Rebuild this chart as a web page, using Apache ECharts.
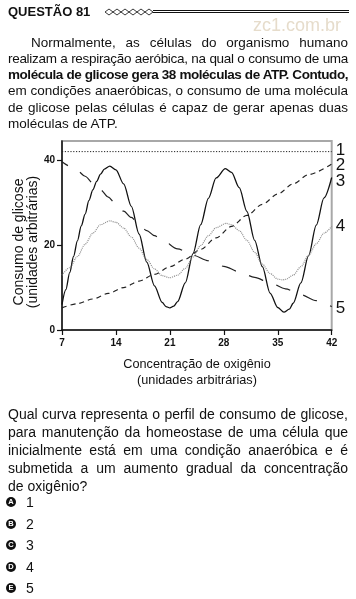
<!DOCTYPE html>
<html><head><meta charset="utf-8">
<script src="https://cdn.jsdelivr.net/npm/echarts@6/dist/echarts.min.js"></script>
<style>
html,body{margin:0;padding:0;background:#fff;}
body{width:356px;height:599px;position:relative;overflow:hidden;font-family:"Liberation Sans",Arial,sans-serif;color:#111;}
#chart{position:absolute;left:0;top:0;width:356px;height:599px;}
.abs{position:absolute;}
.ln{display:block;white-space:normal;}
.jl{text-align:justify;text-align-last:justify;}
#title{left:8px;top:4px;font-size:13px;font-weight:bold;line-height:16px;}
#dbl{left:153px;top:9.5px;width:196px;height:1px;border-top:1.5px solid #111;border-bottom:1.5px solid #111;}
#wm{left:253px;top:14px;font-size:18px;line-height:22px;color:#e6dccb;}
#para{left:8px;top:34.7px;width:340px;font-size:13.5px;line-height:16.2px;}
#quest{left:8px;top:405px;width:340px;font-size:14px;line-height:18px;}
#opts{left:6px;top:492px;font-size:14px;line-height:21.5px;}
.circ{display:inline-block;width:10px;height:10px;border-radius:50%;background:#111;color:#fff;font-size:7.5px;font-weight:bold;line-height:10px;text-align:center;vertical-align:middle;margin-right:10px;position:relative;top:-1px;}
</style></head>
<body>
<div id="chart"></div>
<div id="title" class="abs">QUESTÃO 81</div>
<svg class="abs" style="left:104px;top:7px" width="50" height="10">
<g fill="none" stroke="#222" stroke-width="0.9">
<polygon points="1,5 5,2 9,5 5,8"/><polygon points="9,5 13,2 17,5 13,8"/><polygon points="17,5 21,2 25,5 21,8"/>
<polygon points="25,5 29,2 33,5 29,8"/><polygon points="33,5 37,2 41,5 37,8"/><polygon points="41,5 45,2 49,5 45,8"/>
</g></svg>
<div id="dbl" class="abs"></div>
<div id="wm" class="abs">zc1.com.br</div>
<div id="para" class="abs">
<div class="ln jl" style="padding-left:23px">Normalmente, as células do organismo humano</div>
<div class="ln jl">realizam a respiração aeróbica, na qual o consumo de uma</div>
<div class="ln jl" style="font-weight:bold">molécula de glicose gera 38 moléculas de ATP. Contudo,</div>
<div class="ln jl">em condições anaeróbicas, o consumo de uma molécula</div>
<div class="ln jl">de glicose pelas células é capaz de gerar apenas duas</div>
<div class="ln">moléculas de ATP.</div>
</div>
<div id="quest" class="abs">
<div class="ln jl">Qual curva representa o perfil de consumo de glicose,</div>
<div class="ln jl">para manutenção da homeostase de uma célula que</div>
<div class="ln jl">inicialmente está em uma condição anaeróbica e é</div>
<div class="ln jl">submetida a um aumento gradual da concentração</div>
<div class="ln">de oxigênio?</div>
</div>
<div id="opts" class="abs">
<div><span class="circ">A</span>1</div>
<div><span class="circ">B</span>2</div>
<div><span class="circ">C</span>3</div>
<div><span class="circ">D</span>4</div>
<div><span class="circ">E</span>5</div>
</div>
<script>
// fit justified lines: shrink letter-spacing if a line wraps
document.querySelectorAll('.ln').forEach(function(el){
  var lh = parseFloat(getComputedStyle(el).lineHeight);
  var ls = 0;
  while (el.offsetHeight > lh * 1.5 && ls > -1.5) { ls -= 0.05; el.style.letterSpacing = ls + 'px'; }
});

// ---- data ----
var xTicks = [7, 14, 21, 28, 35, 42];
var yTicks = [0, 20, 40];
var curveNames = ['1', '2', '3', '4', '5'];

var curve1X = [7, 42];
var curve1Y = [42, 42];

var curve2X = [7, 9, 11, 13, 15, 17, 19, 21, 23, 25, 27, 29, 31, 33, 35, 37, 39, 42];
var curve2Y = [5.2, 6.2, 7.3, 8.6, 10.0, 11.5, 13.1, 14.9, 16.7, 19.0, 21.7, 24.4, 27.0, 29.6, 32.0, 34.4, 36.6, 39.1];

var curve3X = [7, 7.5, 8, 8.5, 9, 9.5, 10, 10.5, 11, 11.5, 12, 12.5, 13.2, 14, 15, 16, 17, 18, 19, 20, 20.5, 21, 21.5, 22, 23, 24, 25, 26, 27, 28.2, 29, 30, 31, 32, 33, 34, 35, 35.8, 36.5, 37, 38, 39, 40, 41, 42];
var curve3Y = [6, 9.5, 13.5, 17.3, 21, 24.5, 27.3, 30.5, 33, 35, 36.7, 37.9, 38.6, 37.7, 34.4, 29.1, 22.6, 16.0, 10.4, 6.5, 5.5, 5.2, 5.6, 6.7, 11.1, 18.0, 24.8, 31.0, 35.8, 38.0, 37.1, 33.5, 27.9, 21.1, 14.9, 8.7, 5.3, 4.2, 4.9, 6.3, 11.1, 17.5, 24.7, 31.1, 35.9];

var curve4X = [7, 8, 9, 10, 11, 12, 13.2, 14, 15, 16, 17, 18, 19, 20, 21, 22, 23, 24, 25, 26, 27, 28.3, 29, 30, 31, 32, 33, 34, 35, 35.6, 36, 37, 38, 39, 40, 41, 42];
var curve4Y = [12.9, 14.7, 17.3, 20.2, 22.8, 24.8, 25.7, 25.35, 24.0, 21.9, 19.3, 16.6, 14.4, 12.8, 12.3, 12.9, 14.5, 17.2, 19.9, 22.2, 24.1, 25.1, 24.8, 23.4, 21.1, 18.3, 15.5, 13.3, 12.0, 11.8, 11.9, 12.9, 14.9, 17.6, 20.3, 22.8, 24.4];

var curve5X = [7, 8, 9, 10, 11, 12, 13, 14, 15, 16, 17, 18, 19, 20, 22, 24, 26, 28, 30, 32, 34, 36, 38, 40, 42];
var curve5Y = [39.6, 38.6, 37.5, 36.2, 34.6, 33.0, 31.3, 29.6, 28.0, 26.5, 24.8, 23.4, 22.2, 21.2, 19.1, 17.6, 16.3, 15.0, 13.7, 12.4, 11.1, 9.7, 8.3, 6.9, 5.5];

var FONT = '"Liberation Sans", Arial, sans-serif';
function pairs(xs, ys){ return xs.map(function(x, i){ return [x, ys[i]]; }); }
function mk(name, xs, ys, lineStyle, labelOffset, smooth){
  return {
    type: 'line', name: name, data: pairs(xs, ys), symbol: 'none', showSymbol: false,
    smooth: smooth, smoothMonotone: 'x', lineStyle: lineStyle, silent: true,
    endLabel: { show: true, formatter: '{a}', fontSize: 17, fontFamily: FONT, color: '#111', distance: 4, offset: labelOffset }
  };
}

var chart = echarts.init(document.getElementById('chart'), null, { renderer: 'canvas' });
chart.setOption({
  animation: false,
  backgroundColor: 'transparent',
  grid: { left: 62, right: 24.3, top: 141, bottom: 269, show: true, borderColor: '#a8a8a8', borderWidth: 2, backgroundColor: 'transparent' },
  xAxis: {
    type: 'value', min: 7, max: 42, interval: 7,
    axisLine: { show: true, onZero: false, lineStyle: { color: '#111', width: 1.5 } },
    axisTick: { show: true, length: 5, lineStyle: { color: '#111', width: 1.2 }, customValues: xTicks },
    axisLabel: { fontSize: 10, fontWeight: 'bold', color: '#111', fontFamily: FONT, margin: 8, customValues: xTicks },
    splitLine: { show: false }
  },
  yAxis: {
    type: 'value', min: 0, max: 44.5, interval: 20,
    axisLine: { show: true, lineStyle: { color: '#111', width: 1.5 } },
    axisTick: { show: true, length: 5, lineStyle: { color: '#111', width: 1.2 }, customValues: yTicks },
    axisLabel: { fontSize: 10, fontWeight: 'bold', color: '#111', fontFamily: FONT, margin: 7, customValues: yTicks },
    splitLine: { show: false }
  },
  graphic: [
    { type: 'text', x: 19, y: 242, rotation: Math.PI / 2, style: { text: 'Consumo de glicose', fontSize: 14, fontFamily: FONT, fill: '#111', align: 'center', verticalAlign: 'middle' } },
    { type: 'text', x: 33.5, y: 242, rotation: Math.PI / 2, style: { text: '(unidades arbitrárias)', fontSize: 14, fontFamily: FONT, fill: '#111', align: 'center', verticalAlign: 'middle' } },
    { type: 'text', x: 197, y: 364, style: { text: 'Concentração de oxigênio', fontSize: 12.7, fontFamily: FONT, fill: '#111', align: 'center', verticalAlign: 'middle' } },
    { type: 'text', x: 197, y: 380, style: { text: '(unidades arbitrárias)', fontSize: 12.7, fontFamily: FONT, fill: '#111', align: 'center', verticalAlign: 'middle' } }
  ],
  series: [
    mk(curveNames[0], curve1X, curve1Y, { color: '#222', width: 1, type: [1.2, 1.6] }, [0, -1], false),
    mk(curveNames[1], curve2X, curve2Y, { color: '#222', width: 1.2, type: [5, 4] }, [0, 1], 0.3),
    mk(curveNames[2], curve3X, curve3Y, { color: '#111', width: 1.3, type: 'solid' }, [0, 4], 0.3),
    mk(curveNames[3], curve4X, curve4Y, { color: '#8c8c8c', width: 1.2, type: [1, 1] }, [0, 0], 0.3),
    mk(curveNames[4], curve5X, curve5Y, { color: '#222', width: 1.2, type: [15, 14], dashOffset: 8 }, [0, 1.5], 0.3)
  ]
});
</script>
</body></html>
